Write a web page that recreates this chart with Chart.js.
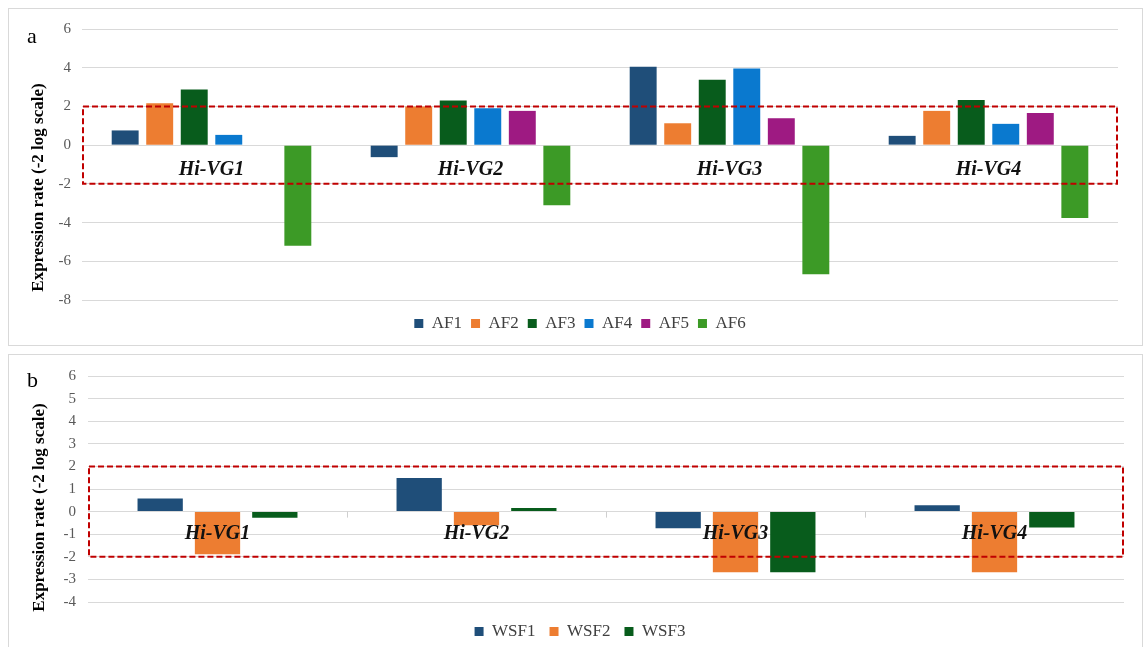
<!DOCTYPE html>
<html>
<head>
<meta charset="utf-8">
<script src="https://cdn.jsdelivr.net/npm/chart.js@4/dist/chart.umd.min.js"></script>
<style>
  body { margin: 0; background: #fff; width: 1145px; height: 647px; overflow: hidden; position: relative; }
  .panel { position: absolute; left: 8px; width: 1135px; border: 1px solid #d9d9d9; box-sizing: border-box; overflow: hidden; }
  #pa { top: 8px; height: 338px; }
  #pb { top: 354px; height: 302px; }
  canvas { display: block; }
</style>
</head>
<body>
<div class="panel" id="pa"><canvas id="chartA" width="1133" height="336"></canvas></div>
<div class="panel" id="pb"><canvas id="chartB" width="1133" height="300"></canvas></div>
<script>
// categories
const genes = ["Hi-VG1", "Hi-VG2", "Hi-VG3", "Hi-VG4"];

// panel a : expression under AF treatments
const af1 = [0.76, -0.62, 4.05, 0.48];
const af2 = [2.16, 2.0, 1.13, 1.77];
const af3 = [2.87, 2.3, 3.38, 2.33];
const af4 = [0.53, 1.9, 3.96, 1.1];
const af5 = [null, 1.77, 1.39, 1.66];
const af6 = [-5.2, -3.1, -6.67, -3.77];
const yRangeA = [-8, 6];
const yStepA = 2;

// panel b : expression under WSF treatments
const wsf1 = [0.58, 1.49, -0.74, 0.28];
const wsf2 = [-1.89, -0.6, -2.68, -2.68];
const wsf3 = [-0.27, 0.16, -2.68, -0.7];
const yRangeB = [-4, 6];
const yStepB = 1;

// the dashed "no change" band
const band = [-2, 2];

const serif = "'Liberation Serif', 'Times New Roman', serif";
const yTitle = "Expression rate (-2 log scale)";

// red dashed band, gene labels along the zero line, panel letter, y title
const overlay = {
  id: "overlay",
  afterDatasetsDraw(chart, args, opts) {
    const { ctx, chartArea } = chart;
    const x = chart.scales.x;
    const y = chart.scales.y;
    const y0 = y.getPixelForValue(0);
    ctx.save();

    if (opts.boundaryTicks) {
      ctx.strokeStyle = "#cfcfcf";
      ctx.lineWidth = 1;
      for (let i = 1; i < chart.data.labels.length; i++) {
        const bx = Math.round((x.getPixelForValue(i - 1) + x.getPixelForValue(i)) / 2) + 0.5;
        ctx.beginPath();
        ctx.moveTo(bx, y0);
        ctx.lineTo(bx, y0 + 6);
        ctx.stroke();
      }
    }

    const top = y.getPixelForValue(band[1]);
    const bot = y.getPixelForValue(band[0]);
    ctx.strokeStyle = "#c00000";
    ctx.lineWidth = 2;
    ctx.setLineDash([6, 3]);
    ctx.strokeRect(chartArea.left + 1, top, chartArea.right - chartArea.left - 2, bot - top);
    ctx.setLineDash([]);

    ctx.fillStyle = "#111";
    ctx.font = "italic bold 20px " + serif;
    ctx.textAlign = "center";
    ctx.textBaseline = "middle";
    chart.data.labels.forEach((lab, i) => {
      ctx.fillText(lab, x.getPixelForValue(i), y0 + opts.labelGap);
    });

    ctx.font = "22px " + serif;
    ctx.textAlign = "left";
    ctx.textBaseline = "alphabetic";
    ctx.fillStyle = "#000";
    ctx.fillText(opts.letter, opts.letterX, opts.letterY);

    ctx.font = "bold 17px " + serif;
    ctx.textAlign = "center";
    ctx.textBaseline = "middle";
    ctx.translate(opts.titleX, opts.titleY);
    ctx.rotate(-Math.PI / 2);
    ctx.fillText(yTitle, 0, 0);
    ctx.restore();
  }
};

function makeChart(canvasId, series, cfg) {
  const datasets = series.map((s) => ({
    label: s.label,
    data: s.data,
    backgroundColor: s.color,
    borderWidth: 0,
    categoryPercentage: cfg.catPct,
    barPercentage: cfg.barPct
  }));

  return new Chart(document.getElementById(canvasId), {
    type: "bar",
    data: { labels: genes, datasets },
    options: {
      responsive: false,
      animation: false,
      layout: { padding: cfg.padding },
      scales: {
        x: {
          display: true,
          grid: { display: false },
          border: { display: false },
          ticks: { display: false },
          afterFit: (s) => { s.height = cfg.xGap; }
        },
        y: {
          min: cfg.range[0],
          max: cfg.range[1],
          ticks: {
            stepSize: cfg.step,
            padding: cfg.tickPad,
            color: "#595959",
            font: { family: serif, size: 15 }
          },
          grid: { color: "#d9d9d9", drawTicks: false },
          border: { display: false },
          afterFit: (s) => { s.width = cfg.yWidth; }
        }
      },
      plugins: {
        legend: {
          position: "bottom",
          labels: {
            boxWidth: 9,
            boxHeight: 9,
            padding: cfg.legendPad,
            color: "#404040",
            font: { family: serif, size: 17 }
          }
        },
        tooltip: { enabled: false },
        overlay: cfg.overlay
      }
    },
    plugins: [overlay]
  });
}

makeChart("chartA", [
  { label: "AF1", data: af1, color: "#1f4e79" },
  { label: "AF2", data: af2, color: "#ed7d31" },
  { label: "AF3", data: af3, color: "#085c1c" },
  { label: "AF4", data: af4, color: "#0a79cf" },
  { label: "AF5", data: af5, color: "#9e1a82" },
  { label: "AF6", data: af6, color: "#3c9a26" }
], {
  range: yRangeA, step: yStepA,
  catPct: 0.8, barPct: 0.78,
  padding: { left: 33, top: 19, right: 24, bottom: 3 },
  xGap: 6, yWidth: 40, tickPad: 11, legendPad: 9,
  overlay: { labelGap: 25, letter: "a", letterX: 18, letterY: 34, titleX: 29.5, titleY: 178.5, boundaryTicks: false }
});

makeChart("chartB", [
  { label: "WSF1", data: wsf1, color: "#1f4e79" },
  { label: "WSF2", data: wsf2, color: "#ed7d31" },
  { label: "WSF3", data: wsf3, color: "#085c1c" }
], {
  range: yRangeB, step: yStepB,
  catPct: 0.664, barPct: 0.79,
  padding: { left: 27, top: 15, right: 18, bottom: 5 },
  xGap: 7, yWidth: 52, tickPad: 12, legendPad: 14,
  overlay: { labelGap: 22, letter: "b", letterX: 18, letterY: 32, titleX: 30.5, titleY: 152.5, boundaryTicks: true }
});
</script>
</body>
</html>
